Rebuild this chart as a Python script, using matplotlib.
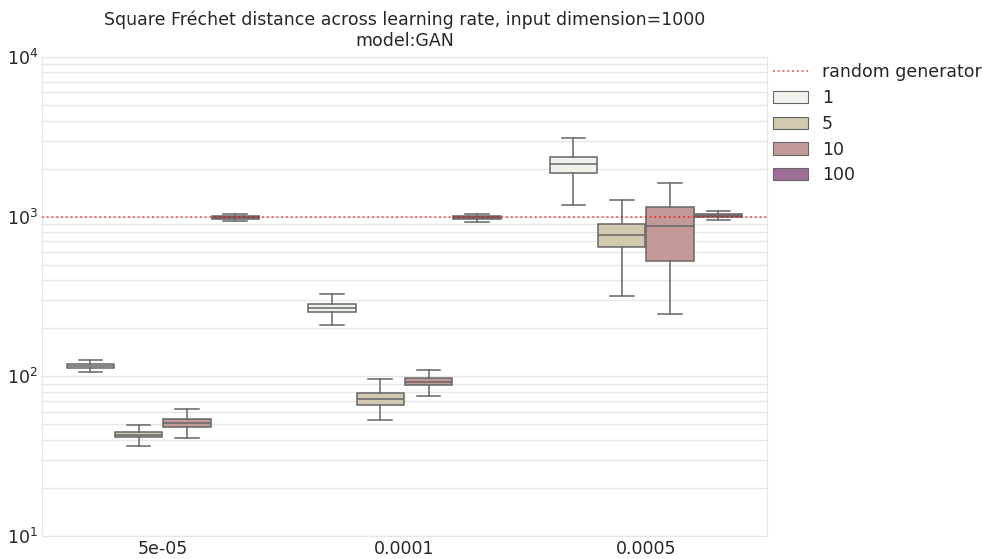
import numpy as np
import matplotlib
matplotlib.use("Agg")
import matplotlib.pyplot as plt
from matplotlib.lines import Line2D
from matplotlib.patches import Patch

# ----- datos -----
learning_rates = ["5e-05", "0.0001", "0.0005"]
hues = ["1", "5", "10", "100"]
colores = ["#eef4ec", "#d1cab0", "#c39a98", "#9e6f96"]

# estadísticas de caja por hue, una entrada por learning rate
whislo = {
    "1":   [106, 210, 1178],
    "5":   [36.6, 53.3, 320],
    "10":  [40.9, 75.0, 245],
    "100": [935, 925, 948],
}
q1 = {
    "1":   [112.8, 252, 1869],
    "5":   [41.5, 65.9, 646],
    "10":  [48.0, 87.9, 525],
    "100": [971, 968, 991],
}
mediana = {
    "1":   [116, 269, 2137],
    "5":   [43.1, 71.8, 771],
    "10":  [50.8, 92.4, 870],
    "100": [993, 990, 1013],
}
q3 = {
    "1":   [119.5, 284, 2364],
    "5":   [44.8, 78.3, 900],
    "10":  [53.8, 97.2, 1145],
    "100": [1014, 1012, 1035],
}
whishi = {
    "1":   [127, 328, 3123],
    "5":   [49.8, 95.8, 1266],
    "10":  [62.2, 109, 1618],
    "100": [1039, 1040, 1080],
}
random_generator = 1000

gris = "#666666"
texto = "#262626"

fig = plt.figure(figsize=(9.82, 5.59), dpi=100)
ax = fig.add_axes([0.0428, 0.041, 0.738, 0.857])

ancho = 0.8 / len(hues)
for j, h in enumerate(hues):
    stats = []
    pos = []
    for i in range(len(learning_rates)):
        stats.append(dict(med=mediana[h][i], q1=q1[h][i], q3=q3[h][i],
                          whislo=whislo[h][i], whishi=whishi[h][i], fliers=[]))
        pos.append(i - 0.4 + ancho * (j + 0.5))
    ax.bxp(stats, positions=pos, widths=ancho * 0.98, patch_artist=True,
           showfliers=False,
           boxprops=dict(facecolor=colores[j], edgecolor=gris, linewidth=1.1),
           medianprops=dict(color=gris, linewidth=1.1),
           whiskerprops=dict(color=gris, linewidth=1.1),
           capprops=dict(color=gris, linewidth=1.1),
           manage_ticks=False, zorder=3)

ax.axhline(random_generator, color="red", ls=":", lw=1.3, alpha=0.65, zorder=4)

ax.set_yscale("log")
ax.set_ylim(10, 10000)
ax.set_xlim(-0.5, 2.5)
ax.set_xticks(range(len(learning_rates)))
ax.set_xticklabels(learning_rates)
ax.tick_params(axis="both", which="both", length=0, labelsize=12.5, colors=texto)
ax.tick_params(axis="x", pad=2.5)
ax.tick_params(axis="y", pad=3)
ax.yaxis.grid(True, which="both", color="#e6e6e6", lw=1, zorder=0)
ax.xaxis.grid(False)
ax.set_axisbelow(True)
for s in ax.spines.values():
    s.set_color("#e6e6e6")

ax.set_title("Square Fréchet distance across learning rate, input dimension=1000\nmodel:GAN",
             fontsize=12.5, color=texto, pad=8, linespacing=1.2)

handles = [Line2D([0], [0], color="red", ls=":", lw=1.3, alpha=0.65)]
handles += [Patch(facecolor=c, edgecolor=gris, linewidth=0.8) for c in colores]
ax.legend(handles, ["random generator"] + hues, loc="upper left",
          bbox_to_anchor=(1.0, 1.0), frameon=False, fontsize=12.5,
          handlelength=2.0, handletextpad=0.82, labelspacing=0.45,
          labelcolor=texto, borderaxespad=0.0, borderpad=0.35)

fig.savefig("out.png", dpi=100)
